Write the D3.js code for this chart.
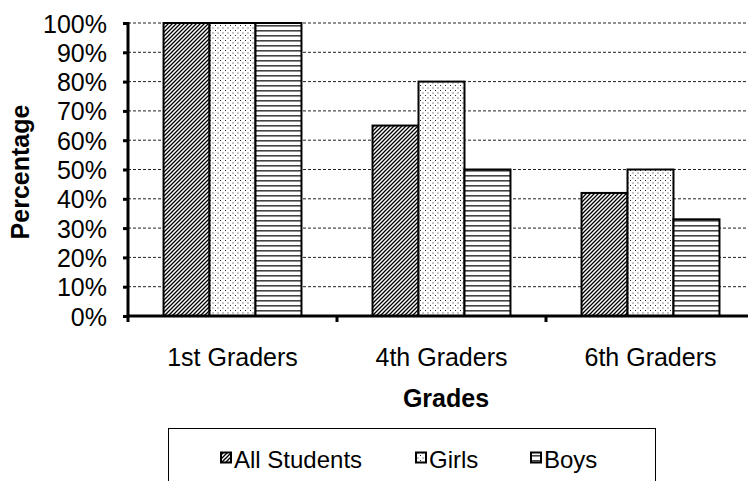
<!DOCTYPE html>
<html><head><meta charset="utf-8">
<script src="https://cdn.jsdelivr.net/npm/d3@7"></script>
<style>body{margin:0;background:#fff}svg{display:block}text{font-family:"Liberation Sans",Arial,sans-serif}</style>
</head><body><svg id="c" width="748" height="481"></svg>
<script>
const categories = ["1st Graders","4th Graders","6th Graders"];
const seriesNames = ["All Students","Girls","Boys"];
const allStudents = [100, 65, 42];
const girls = [100, 80, 50];
const boys = [100, 50, 33];
const yTicks = [0,10,20,30,40,50,60,70,80,90,100];

const svg = d3.select("#c");
const defs = svg.append("defs");
const p1 = defs.append("pattern").attr("id","pDiag").attr("patternUnits","userSpaceOnUse").attr("width",4).attr("height",4);
p1.append("rect").attr("width",4).attr("height",4).attr("fill","#fff");
p1.append("path").attr("d","M-1,5 L5,-1 M-1,1 L1,-1 M3,5 L5,3").attr("stroke","#000").attr("stroke-width",1.3);
const p2 = defs.append("pattern").attr("id","pDots").attr("patternUnits","userSpaceOnUse").attr("width",5).attr("height",5);
p2.append("rect").attr("width",5).attr("height",5).attr("fill","#fff");
p2.append("rect").attr("x",0).attr("y",0).attr("width",1).attr("height",1).attr("fill","#222");
p2.append("rect").attr("x",2.5).attr("y",2.5).attr("width",1).attr("height",1).attr("fill","#222");
const p3 = defs.append("pattern").attr("id","pHoriz").attr("patternUnits","userSpaceOnUse").attr("width",4).attr("height",5);
p3.append("rect").attr("width",4).attr("height",5).attr("fill","#fff");
p3.append("rect").attr("x",0).attr("y",0).attr("width",4).attr("height",1.6).attr("fill","#444");
const fills = ["url(#pDiag)","url(#pDots)","url(#pHoriz)"];

const x0 = d3.scaleBand().domain(categories).range([128,755]).paddingInner(0.34).paddingOuter(0.17);
const x1 = d3.scaleBand().domain(seriesNames).range([0,x0.bandwidth()]);
const y = d3.scaleLinear().domain([0,100]).range([316,23]);

svg.append("g").selectAll("line").data(yTicks.filter(d=>d>0)).join("line")
  .attr("x1",128).attr("x2",748).attr("y1",d=>y(d)).attr("y2",d=>y(d))
  .attr("stroke","#222").attr("stroke-width",1).attr("stroke-dasharray","3,2");

const data = categories.map((c,i)=>({c, vals:[allStudents[i],girls[i],boys[i]]}));
const g = svg.append("g");
data.forEach(d=>{
  d.vals.forEach((v,j)=>{
    g.append("rect").attr("x",x0(d.c)+x1(seriesNames[j])).attr("y",y(v))
     .attr("width",x1.bandwidth()).attr("height",y(0)-y(v))
     .attr("fill",fills[j]).attr("stroke","#000").attr("stroke-width",2);
  });
});

const yAxis = d3.axisLeft(y).tickValues(yTicks).tickFormat(d=>d+"%").tickSize(5).tickPadding(16);
const ya = svg.append("g").attr("transform","translate(128,0)").call(yAxis);
ya.select(".domain").attr("stroke-width",3).attr("d","M0,22V317");
ya.selectAll(".tick line").attr("stroke-width",3);
ya.selectAll(".tick text").attr("font-size",25).attr("fill","#000").attr("dy","0.36em");

const xa = svg.append("g").attr("transform","translate(0,316)");
xa.append("line").attr("x1",127).attr("x2",748).attr("stroke","#000").attr("stroke-width",3);
const bnd = [128,337,546,755];
xa.selectAll("line.t").data(bnd).join("line").attr("class","t").attr("x1",d=>d).attr("x2",d=>d)
  .attr("y1",0).attr("y2",6).attr("stroke","#000").attr("stroke-width",3);
xa.selectAll("text").data(categories).join("text")
  .attr("x",d=>x0(d)+x0.bandwidth()/2).attr("y",50).attr("text-anchor","middle")
  .attr("font-size",25).text(d=>d);

svg.append("text").attr("x",446).attr("y",407).attr("text-anchor","middle")
  .attr("font-size",25).attr("font-weight","bold").text("Grades");
svg.append("text").attr("transform","translate(29,172) rotate(-90)").attr("text-anchor","middle")
  .attr("font-size",25).attr("font-weight","bold").text("Percentage");

svg.append("rect").attr("x",168.5).attr("y",428.5).attr("width",487).attr("height",60)
  .attr("fill","#fff").attr("stroke","#000").attr("stroke-width",1);
const lx = [221,416,531];
seriesNames.forEach((s,j)=>{
  svg.append("rect").attr("x",lx[j]).attr("y",452.5).attr("width",10).attr("height",10)
    .attr("fill",fills[j]).attr("stroke","#000").attr("stroke-width",2);
  svg.append("text").attr("x",lx[j]+13).attr("y",468).attr("font-size",24).text(s);
});
</script></body></html>
